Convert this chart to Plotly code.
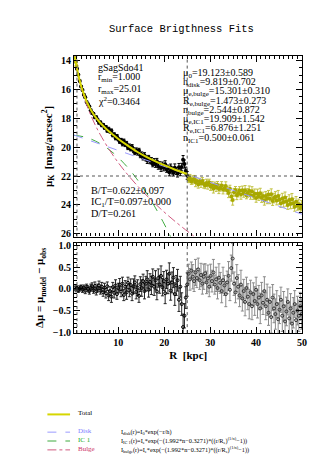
import plotly.graph_objects as go

# ---------------- data ----------------
# fitted range (black points)
r_fit = [1.0, 1.3, 1.6, 1.9, 2.2, 2.5, 2.8, 3.1, 3.4, 3.7, 4.0,
         4.3, 4.6, 4.9, 5.2, 5.5, 5.8, 6.1, 6.4, 6.7, 7.0,
         7.3, 7.6, 7.9, 8.2, 8.5, 8.8, 9.1, 9.4, 9.7, 10.0,
         10.3, 10.6, 10.9, 11.2, 11.5, 11.8, 12.1, 12.4, 12.7, 13.0,
         13.3, 13.6, 13.9, 14.2, 14.5, 14.8, 15.1, 15.4, 15.7, 16.0,
         16.3, 16.6, 16.9, 17.2, 17.5, 17.8, 18.1, 18.4, 18.7, 19.0,
         19.3, 19.6, 19.9, 20.2, 20.5, 20.8, 21.1, 21.4, 21.7, 22.0,
         22.3, 22.6, 22.9, 23.2, 23.5, 23.8, 24.1, 24.4, 24.7, 25.0]
mu_fit = [14.57, 14.98, 15.41, 15.80, 16.04, 16.36, 16.54, 16.87, 17.03, 17.18, 17.44,
          17.63, 17.69, 17.93, 17.92, 18.12, 18.30, 18.28, 18.48, 18.45, 18.65,
          18.61, 18.86, 18.74, 18.92, 18.87, 19.17, 19.12, 19.36, 19.24, 19.45,
          19.60, 19.51, 19.76, 19.57, 19.82, 19.76, 20.04, 19.93, 20.12, 19.98,
          20.21, 20.37, 20.21, 20.37, 20.23, 20.56, 20.52, 20.73, 20.56, 20.78,
          20.93, 20.74, 20.96, 20.93, 21.18, 20.99, 21.18, 20.97, 21.32, 21.21,
          21.45, 21.23, 21.42, 21.18, 21.53, 21.47, 21.74, 21.39, 21.62, 21.77,
          21.42, 21.66, 21.82, 21.40, 21.74, 21.38, 20.88, 21.17, 21.63, 21.96]
err_fit = [0.05, 0.05, 0.06, 0.05, 0.06, 0.06, 0.07, 0.06, 0.07, 0.07, 0.08,
           0.08, 0.07, 0.09, 0.08, 0.09, 0.10, 0.08, 0.10, 0.09, 0.10,
           0.11, 0.10, 0.12, 0.10, 0.13, 0.11, 0.12, 0.13, 0.12, 0.11,
           0.14, 0.12, 0.15, 0.13, 0.14, 0.16, 0.13, 0.15, 0.14, 0.16,
           0.17, 0.15, 0.16, 0.18, 0.15, 0.17, 0.19, 0.16, 0.18, 0.17,
           0.20, 0.17, 0.19, 0.21, 0.18, 0.20, 0.22, 0.19, 0.21, 0.20,
           0.23, 0.20, 0.22, 0.24, 0.21, 0.23, 0.25, 0.22, 0.24, 0.23,
           0.26, 0.23, 0.25, 0.27, 0.24, 0.26, 0.30, 0.28, 0.25, 0.27]
res_fit = [0.02, -0.03, 0.01, 0.04, -0.02, 0.03, -0.04, 0.05, 0.00, -0.05, 0.03,
           0.06, -0.03, 0.07, -0.06, 0.02, 0.08, -0.04, 0.05, -0.08, 0.03,
           -0.10, 0.06, -0.15, -0.05, -0.18, 0.04, -0.09, 0.08, -0.12, 0.02,
           0.10, -0.06, 0.12, -0.14, 0.05, -0.08, 0.14, -0.03, 0.09, -0.11,
           0.06, 0.15, -0.07, 0.03, -0.16, 0.11, 0.02, 0.18, -0.05, 0.12,
           0.22, -0.02, 0.16, 0.08, 0.28, 0.05, 0.20, -0.06, 0.25, 0.10,
           0.30, 0.04, 0.18, -0.10, 0.22, 0.12, 0.35, -0.04, 0.15, 0.26,
           -0.12, 0.08, 0.20, -0.25, 0.05, -0.35, -0.88, -0.62, -0.20, 0.10]

# outside the fitted range (olive points)
r_out = [0.6, 0.75, 0.9,
         25.3, 25.6, 25.9, 26.2, 26.5, 26.8, 27.1, 27.4, 27.7, 28.0,
         28.3, 28.6, 28.9, 29.2, 29.5, 29.8, 30.1, 30.4, 30.7, 31.0,
         31.3, 31.6, 31.9, 32.2, 32.5, 32.8, 33.1, 33.4, 33.7, 34.0,
         34.3, 34.6, 34.9, 35.2, 35.5, 35.8, 36.1, 36.4, 36.7, 37.0,
         37.3, 37.6, 37.9, 38.2, 38.5, 38.8, 39.1, 39.4, 39.7, 40.0,
         40.3, 40.6, 40.9, 41.2, 41.5, 41.8, 42.1, 42.4, 42.7, 43.0,
         43.3, 43.6, 43.9, 44.2, 44.5, 44.8, 45.1, 45.4, 45.7, 46.0,
         46.3, 46.6, 46.9, 47.2, 47.5, 47.8, 48.1, 48.4, 48.7, 49.0,
         49.3, 49.6, 49.9]
mu_out = [13.80, 14.09, 14.38,
          22.24, 22.14, 22.38, 22.27, 22.20, 22.44, 22.34, 22.58, 22.37, 22.52,
          22.35, 22.55, 22.66, 22.48, 22.60, 22.45, 22.73, 22.64, 22.88, 22.64,
          22.79, 22.63, 22.90, 22.81, 22.66, 22.94, 22.85, 22.69, 22.99, 23.17,
          22.89, 23.42, 23.67, 23.13, 22.97, 23.33, 23.17, 23.00, 23.28, 22.99,
          23.20, 22.98, 23.33, 23.17, 23.03, 23.33, 23.05, 23.36, 23.23, 23.53,
          23.23, 23.41, 23.20, 23.53, 23.39, 23.69, 23.38, 23.56, 23.29, 23.58,
          23.26, 23.74, 23.53, 23.43, 23.69, 23.38, 23.63, 23.89, 23.56, 23.81,
          23.49, 23.76, 24.01, 23.66, 23.93, 23.61, 23.89, 24.13, 23.79, 24.04,
          23.96, 24.21, 24.06]
err_out = [0.04, 0.05, 0.05,
           0.22, 0.25, 0.20, 0.28, 0.24, 0.30, 0.22, 0.26, 0.21, 0.27,
           0.24, 0.29, 0.22, 0.26, 0.31, 0.23, 0.27, 0.25, 0.30, 0.22,
           0.28, 0.25, 0.32, 0.24, 0.27, 0.30, 0.23, 0.29, 0.26, 0.33,
           0.25, 0.30, 0.35, 0.27, 0.24, 0.31, 0.28, 0.26, 0.33, 0.29,
           0.27, 0.32, 0.25, 0.30, 0.34, 0.28, 0.31, 0.26, 0.33, 0.29,
           0.32, 0.28, 0.35, 0.30, 0.27, 0.33, 0.31, 0.36, 0.29, 0.34,
           0.37, 0.30, 0.33, 0.35, 0.31, 0.38, 0.32, 0.29, 0.36, 0.34,
           0.38, 0.33, 0.30, 0.36, 0.34, 0.40, 0.35, 0.31, 0.37, 0.33,
           0.36, 0.32, 0.35]
res_out = [0.03, -0.02, 0.01,
           0.35, 0.22, 0.42, 0.28, 0.18, 0.38, 0.25, 0.45, 0.20, 0.32,
           0.12, 0.28, 0.36, 0.15, 0.24, 0.05, 0.30, 0.18, 0.38, 0.10,
           0.22, 0.02, 0.26, 0.14, -0.05, 0.20, 0.08, -0.12, 0.15, 0.30,
           -0.02, 0.48, 0.70, 0.12, -0.08, 0.25, 0.05, -0.15, 0.10, -0.22,
           -0.05, -0.30, 0.02, -0.18, -0.35, -0.08, -0.40, -0.12, -0.28, -0.02,
           -0.35, -0.20, -0.45, -0.15, -0.32, -0.05, -0.40, -0.25, -0.55, -0.30,
           -0.65, -0.20, -0.45, -0.58, -0.35, -0.70, -0.48, -0.25, -0.62, -0.40,
           -0.75, -0.52, -0.30, -0.68, -0.45, -0.80, -0.55, -0.35, -0.72, -0.50,
           -0.62, -0.40, -0.58]

# model curves
r_total = [0.6, 0.75, 1.0, 1.5, 2.0, 2.5, 3.0, 3.5, 4.0, 5.0, 6.0, 7.0, 8.0, 9.0,
           10.0, 12.0, 14.0, 16.0, 18.0, 20.0, 22.0, 25.0]
mu_total = [13.76, 14.08, 14.55, 15.28, 15.86, 16.33, 16.75, 17.10, 17.41, 17.90, 18.29,
            18.62, 18.92, 19.18, 19.43, 19.88, 20.30, 20.66, 20.97, 21.25, 21.51, 21.86]
r_disk = [0.35, 10.0, 20.0, 30.0, 40.0, 50.0]
mu_disk = [19.16, 20.23, 21.33, 22.44, 23.55, 24.65]
r_ic1 = [0.35, 3.0, 6.0, 9.0, 12.0, 14.0, 16.0, 18.0, 20.0, 21.0, 21.6]
mu_ic1 = [19.18, 19.32, 19.74, 20.43, 21.39, 22.19, 23.11, 24.16, 25.33, 25.96, 26.35]
r_bulge = [0.35, 0.5, 0.75, 1.0, 1.5, 2.0, 3.0, 4.0, 5.0, 6.0, 8.0, 10.0, 12.0,
           15.0, 18.0, 21.0, 24.0, 27.0]
mu_bulge = [13.08, 13.52, 14.10, 14.58, 15.34, 15.96, 16.96, 17.78, 18.48, 19.09,
            20.16, 21.08, 21.89, 22.97, 23.92, 24.78, 25.57, 26.30]

r_min, r_max, mu_lim = 1.0, 25.0, 22.0

# ---------------- figure ----------------
W, H = 332, 472
def px(x):
    return x / W
def py(y):
    return 1 - y / H

SERIF = "Liberation Serif, Times New Roman, serif"
fig = go.Figure()

OLIVE = "#a8a800"
OLIVE_BAR = "#c2c244"

fig.add_trace(go.Scatter(x=r_fit, y=mu_fit, mode="markers", xaxis="x", yaxis="y",
                         marker=dict(color="black", size=4, symbol="circle"),
                         error_y=dict(type="data", array=err_fit, color="black",
                                      thickness=1, width=1.5)))
fig.add_trace(go.Scatter(x=r_out, y=mu_out, mode="markers", xaxis="x", yaxis="y",
                         marker=dict(color=OLIVE, size=4, symbol="circle"),
                         error_y=dict(type="data", array=err_out, color=OLIVE_BAR,
                                      thickness=1, width=1.5)))
fig.add_trace(go.Scatter(x=r_ic1, y=mu_ic1, mode="lines", xaxis="x", yaxis="y",
                         line=dict(color="#3faa3f", width=1, dash="dash", shape="spline")))
fig.add_trace(go.Scatter(x=r_bulge, y=mu_bulge, mode="lines", xaxis="x", yaxis="y",
                         line=dict(color="#d05a80", width=1, dash="dashdot", shape="spline")))
fig.add_trace(go.Scatter(x=r_disk, y=mu_disk, mode="lines", xaxis="x", yaxis="y",
                         line=dict(color="#9a9aff", width=1, dash="dash")))
fig.add_trace(go.Scatter(x=r_total, y=mu_total, mode="lines", xaxis="x", yaxis="y",
                         line=dict(color="#d6d600", width=2, shape="spline")))

# residuals
fig.add_trace(go.Scatter(x=r_out, y=res_out, mode="markers", xaxis="x2", yaxis="y2",
                         marker=dict(color="#333333", size=3, symbol="circle-open",
                                     line=dict(width=1)),
                         error_y=dict(type="data", array=err_out, color="#8a8a8a",
                                      thickness=1, width=1.5)))
fig.add_trace(go.Scatter(x=r_fit, y=res_fit, mode="markers", xaxis="x2", yaxis="y2",
                         marker=dict(color="black", size=3, symbol="circle-open",
                                     line=dict(width=1)),
                         error_y=dict(type="data", array=err_fit, color="#222222",
                                      thickness=1, width=1.5)))

XDOM = [px(67), px(299)]
tickfont = dict(family=SERIF, size=10, color="black", weight="bold")
common_x = dict(domain=XDOM, range=[0.35, 50.1], dtick=10, tick0=0, ticks="inside",
                ticklen=6, tickwidth=1, tickcolor="black", mirror="allticks",
                showline=True, linecolor="black", linewidth=1.2, showgrid=False,
                zeroline=False,
                minor=dict(ticks="inside", ticklen=3, dtick=1, tickcolor="black",
                           showgrid=False))
fig.update_layout(
    width=W, height=H, margin=dict(l=0, r=0, t=0, b=0),
    paper_bgcolor="white", plot_bgcolor="white", showlegend=False,
    xaxis=dict(common_x, anchor="y", showticklabels=False),
    yaxis=dict(domain=[py(230), py(47)], range=[26.2, 13.7], dtick=2, tick0=0,
               ticks="inside", ticklen=6, tickcolor="black", mirror="allticks",
               showline=True, linecolor="black", linewidth=1.2, showgrid=False,
               zeroline=False, anchor="x", tickfont=tickfont,
               minor=dict(ticks="inside", ticklen=3, dtick=0.5, tickcolor="black",
                          showgrid=False),
               title=dict(text="μ<sub>K</sub>  [mag/arcsec<sup>2</sup>]",
                          font=dict(family=SERIF, size=11, color="black", weight="bold"),
                          standoff=6)),
    xaxis2=dict(common_x, anchor="y2", tickfont=tickfont,
                title=dict(text="R  [kpc]", standoff=4,
                           font=dict(family=SERIF, size=11, color="black", weight="bold"))),
    yaxis2=dict(domain=[py(328), py(236)], range=[-1.02, 1.07], dtick=0.5, tick0=0,
                tickformat=".1f", ticks="inside", ticklen=6, tickcolor="black",
                mirror="allticks", showline=True, linecolor="black", linewidth=1.2,
                showgrid=False, zeroline=False, anchor="x2", tickfont=tickfont,
                minor=dict(ticks="inside", ticklen=3, dtick=0.1, tickcolor="black",
                           showgrid=False),
                title=dict(text="Δμ = μ<sub>model</sub> − μ<sub>obs</sub>",
                           font=dict(family=SERIF, size=11, color="black", weight="bold"),
                           standoff=6)),
)

dot = dict(color="#555555", width=1, dash="dot")
for xr, yr in (("x", "y domain"), ("x2", "y2 domain")):
    for rv in (r_min, r_max):
        fig.add_shape(type="line", xref=xr, yref=yr, x0=rv, x1=rv, y0=0, y1=1, line=dot)
fig.add_shape(type="line", xref="x domain", yref="y", x0=0, x1=1, y0=mu_lim, y1=mu_lim,
              line=dot)

def ann(text, x, y, size=9.5, color="black", family=SERIF, xanchor="left", **kw):
    fig.add_annotation(text=text, x=px(x), y=py(y), xref="paper", yref="paper",
                       xanchor=xanchor, yanchor="middle", showarrow=False,
                       font=dict(family=family, size=size, color=color), **kw)

ann("Surface Brigthness Fits", 176, 19, size=10.5,
    family="Liberation Mono, Courier New, monospace", xanchor="center")

for t, y in (("gSagSdo41", 58), ("r<sub>min</sub>=1.000", 69),
             ("r<sub>max</sub>=25.01", 80.5), ("χ<sup>2</sup>=0.3464", 92.5)):
    ann(t, 89, y, size=10)

right = ["μ<sub>0</sub>=19.123±0.589", "h<sub>disk</sub>=9.819±0.702",
         "μ<sub>e,bulge</sub>=15.301±0.310", "R<sub>e,bulge</sub>=1.473±0.273",
         "n<sub>bulge</sub>=2.544±0.872", "μ<sub>e,IC1</sub>=19.909±1.542",
         "R<sub>e,IC1</sub>=6.876±1.251", "n<sub>IC1</sub>=0.500±0.061"]
for i, t in enumerate(right):
    ann(t, 176, 64.5 + 9.35 * i, size=10)

for t, y in (("B/T=0.622±0.097", 183.5), ("IC<sub>1</sub>/T=0.097±0.000", 195),
             ("D/T=0.261", 206.5)):
    ann(t, 82, y, size=10.2)

# legend block below the chart
leg = [("Total", "#d6d600", "solid", 2, 410.5, "black"),
       ("Disk", "#9a9aff", "dash", 1, 428.5, "#8080ff"),
       ("IC 1", "#3faa3f", "dash", 1, 437.5, "#22aa22"),
       ("Bulge", "#d05a80", "dashdot", 1, 446.5, "#cc3366")]
for name, col, dash, w, y, tcol in leg:
    fig.add_shape(type="line", xref="paper", yref="paper", x0=px(40), x1=px(63),
                  y0=py(y), y1=py(y), line=dict(color=col, width=w, dash=dash))
    ann(name, 69, y - 1, size=7, color=tcol)

formulas = [("I<sub>disk</sub>(r)=I<sub>0</sub>*exp(−r/h)", 428),
            ("I<sub>IC 1</sub>(r)=I<sub>e</sub>*exp(−(1.992*n−0.3271)*((r/R<sub>e</sub>)<sup>(1/n)</sup>−1))", 437),
            ("I<sub>bulge</sub>(r)=I<sub>e</sub>*exp(−(1.992*n−0.3271)*((r/R<sub>e</sub>)<sup>(1/n)</sup>−1))", 446)]
for t, y in formulas:
    ann(t, 113, y, size=6.3)

fig.write_html("out.html")
